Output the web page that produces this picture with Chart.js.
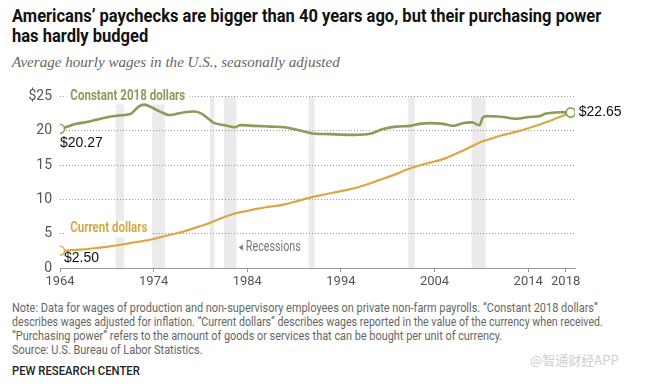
<!DOCTYPE html>
<html>
<head>
<meta charset="utf-8">
<script src="https://cdn.jsdelivr.net/npm/chart.js@4"></script>
<style>
  body { margin: 0; width: 651px; height: 384px; background: #fff; position: relative; overflow: hidden; }
  .fit { position: absolute; left: 12px; white-space: nowrap; transform-origin: 0 0; }
  .title { font-family: Roboto, "DejaVu Sans", sans-serif; font-weight: bold; font-size: 18px; line-height: 20px; color: #111; }
  .sub { font-family: "Liberation Serif", "DejaVu Serif", serif; font-style: italic; font-size: 15px; color: #666; }
  .note { font-family: Roboto, "DejaVu Sans", sans-serif; font-size: 12px; line-height: 14px; color: #666; }
  .pew { font-family: Roboto, "DejaVu Sans", sans-serif; font-size: 12px; font-weight: 500; color: #222; }
  #wrap { position: absolute; left: 0; top: 80px; width: 651px; height: 220px; }
  .wm { position: absolute; left: 530px; top: 350px; font-family: "Noto Sans CJK SC", sans-serif; font-size: 13px; color: #cfcfcf; }
</style>
</head>
<body>
<div class="fit title" style="top:6px" data-w="589">Americans’ paychecks are bigger than 40 years ago, but their purchasing power</div>
<div class="fit title" style="top:26px" data-w="589" data-ref="0">has hardly budged</div>
<div class="fit sub" style="top:54px" data-w="328">Average hourly wages in the U.S., seasonally adjusted</div>
<div id="wrap"><canvas id="myChart" width="651" height="220"></canvas></div>
<div class="fit note" style="top:301px" data-w="586">Note: Data for wages of production and non-supervisory employees on private non-farm payrolls. “Constant 2018 dollars”</div>
<div class="fit note" style="top:315px" data-w="591">describes wages adjusted for inflation. “Current dollars” describes wages reported in the value of the currency when received.</div>
<div class="fit note" style="top:329px" data-w="490">“Purchasing power” refers to the amount of goods or services that can be bought per unit of currency.</div>
<div class="fit note" style="top:343px" data-w="191">Source: U.S. Bureau of Labor Statistics.</div>
<div class="fit pew" style="top:364px" data-w="128">PEW RESEARCH CENTER</div>
<div class="wm">@智通财经APP</div>
<script>
// 数据
const currentYears = [1964, 1965, 1966, 1967, 1968, 1969, 1970, 1971, 1972, 1973, 1974, 1975, 1976, 1977, 1978, 1979,
  1980, 1981, 1982, 1983, 1984, 1985, 1986, 1987, 1988, 1989, 1990, 1991, 1992, 1993, 1994, 1995, 1996, 1997, 1998, 1999,
  2000, 2001, 2002, 2003, 2004, 2005, 2006, 2007, 2008, 2009, 2010, 2011, 2012, 2013, 2014, 2015, 2016, 2017, 2018.55];
const currentValues = [2.50, 2.58, 2.67, 2.77, 2.92, 3.09, 3.28, 3.50, 3.75, 3.97, 4.23, 4.59, 4.91, 5.25, 5.66, 6.11,
  6.57, 7.14, 7.66, 8.04, 8.33, 8.61, 8.85, 9.03, 9.28, 9.62, 10.00, 10.37, 10.64, 10.92, 11.20, 11.49, 11.84, 12.28, 12.77, 13.24,
  13.75, 14.31, 14.78, 15.19, 15.51, 15.90, 16.45, 17.09, 17.73, 18.39, 18.82, 19.26, 19.59, 19.94, 20.36, 20.80, 21.27, 21.81, 22.65];

const constantYears = [1964, 1965, 1965.6, 1967, 1968.8, 1970.2, 1970.9, 1971.6, 1972.4, 1973, 1973.8, 1974.5, 1975.6, 1976.3,
  1977.3, 1978.4, 1979.1, 1979.8, 1980.5, 1981.6, 1982.7, 1983.2, 1984.8, 1986.6, 1988, 1989.4, 1991, 1992.8, 1995.3, 1997.1,
  1998.5, 1999.9, 2001.4, 2002.4, 2003.5, 2004.9, 2006, 2007, 2008.1, 2008.8, 2009.2, 2010.2, 2011.3, 2012.7, 2014.1, 2015.2,
  2015.9, 2017.4, 2018.55];
const constantValues = [20.27, 20.7, 20.97, 21.3, 21.9, 22.2, 22.3, 22.5, 23.5, 23.8, 23.4, 22.9, 22.3, 22.4,
  22.7, 22.8, 22.5, 21.8, 21.1, 20.8, 20.5, 20.8, 20.7, 20.6, 20.5, 20.1, 19.6, 19.5, 19.4, 19.55,
  20.25, 20.6, 20.7, 21.0, 21.1, 21.0, 20.7, 21.1, 21.2, 20.8, 22.0, 22.1, 22.0, 21.75, 22.0, 22.1,
  22.5, 22.7, 22.65];

const recessionStart = [1969.95, 1973.85, 1980.0, 1981.5, 1990.55, 2001.2, 2007.95];
const recessionEnd = [1970.85, 1975.2, 1980.5, 1982.85, 1991.2, 2001.9, 2009.45];

const xTicks = [1964, 1974, 1984, 1994, 2004, 2014, 2018];
const yTicks = [0, 5, 10, 15, 20, 25];

const green = '#8b9b58';
const gold = '#d9a846';
const sans = 'Roboto, "DejaVu Sans", sans-serif';

// 把一行文字横向压缩到参考图的宽度
const fits = document.querySelectorAll('.fit');
const scales = [];
fits.forEach((el, i) => {
  let s = el.dataset.w / el.scrollWidth;
  if (el.dataset.ref !== undefined) s = scales[+el.dataset.ref];
  scales.push(s);
  el.style.transform = 'scaleX(' + s + ')';
});

function pts(xs, ys) { return xs.map((x, i) => ({ x: x, y: ys[i] })); }
function endsOnly(ctx) {
  const n = ctx.dataset.data.length;
  return (ctx.dataIndex === 0 || ctx.dataIndex === n - 1) ? 4.5 : 0;
}
function fillNarrow(ctx, text, x, y, w) {
  const s = w / ctx.measureText(text).width;
  ctx.save();
  ctx.translate(x, y);
  ctx.scale(s, 1);
  ctx.fillText(text, 0, 0);
  ctx.restore();
}

// 衰退期灰色竖条
const recessionPlugin = {
  id: 'recessions',
  beforeDraw(chart) {
    const { ctx, chartArea, scales } = chart;
    ctx.save();
    ctx.fillStyle = '#ebebeb';
    recessionStart.forEach((s, i) => {
      const x1 = scales.x.getPixelForValue(s);
      const x2 = scales.x.getPixelForValue(recessionEnd[i]);
      ctx.fillRect(x1, chartArea.top, x2 - x1, chartArea.bottom - chartArea.top);
    });
    ctx.restore();
  }
};

// 文字标注
const labelPlugin = {
  id: 'labels',
  beforeDatasetsDraw(chart) {
    const { ctx, scales } = chart;
    const X = v => scales.x.getPixelForValue(v);
    const Y = v => scales.y.getPixelForValue(v);
    ctx.save();
    ctx.textBaseline = 'middle';
    ctx.font = 'bold 14px ' + sans;
    [['Constant 2018 dollars', green, 1965.1, 25, 115], ['Current dollars', gold, 1965.1, 5.7, 77]].forEach(l => {
      ctx.fillStyle = '#fff';
      ctx.fillRect(X(l[2]) - 4, Y(l[3]) - 8, l[4] + 8, 16);
      ctx.fillStyle = l[1];
      fillNarrow(ctx, l[0], X(l[2]), Y(l[3]), l[4]);
    });
    ctx.font = '14px "Liberation Sans", Arial, sans-serif';
    ctx.fillStyle = '#111';
    ctx.fillText('$' + constantValues[0].toFixed(2), X(constantYears[0]), Y(constantValues[0]) + 14);
    ctx.fillText('$' + currentValues[0].toFixed(2), X(currentYears[0]) + 4, Y(currentValues[0]) + 7);
    ctx.fillText('$' + constantValues[constantValues.length - 1].toFixed(2), X(constantYears[constantYears.length - 1]) + 8, Y(constantValues[constantValues.length - 1]));
    // Recessions
    ctx.fillStyle = '#777';
    ctx.font = '14px ' + sans;
    const rx = X(1983.1), ry = Y(3.0);
    ctx.beginPath();
    ctx.moveTo(rx, ry);
    ctx.lineTo(rx + 4, ry - 3);
    ctx.lineTo(rx + 4, ry + 3);
    ctx.fill();
    fillNarrow(ctx, 'Recessions', rx + 7, ry, 55);
    ctx.restore();
  }
};

const data = {
  datasets: [{
    label: 'Constant 2018 dollars',
    data: pts(constantYears, constantValues),
    borderColor: green,
    borderWidth: 2.6,
    tension: 0.3,
    pointRadius: endsOnly,
    pointBackgroundColor: '#fff',
    pointBorderColor: green,
    pointBorderWidth: 1.5
  }, {
    label: 'Current dollars',
    data: pts(currentYears, currentValues),
    borderColor: gold,
    borderWidth: 2.2,
    tension: 0.3,
    pointRadius: endsOnly,
    pointBackgroundColor: '#fff',
    pointBorderColor: gold,
    pointBorderWidth: 1.5
  }]
};

const config = {
  type: 'line',
  data: data,
  options: {
    responsive: false,
    animation: false,
    layout: { padding: { top: 14, right: 76, left: 0, bottom: 0 } },
    plugins: { legend: { display: false }, tooltip: { enabled: false } },
    scales: {
      x: {
        type: 'linear',
        min: 1964,
        max: 2019,
        afterBuildTicks: s => { s.ticks = xTicks.map(v => ({ value: v })); },
        afterFit: s => { s.height = 32; },
        grid: { drawOnChartArea: false, drawTicks: true, tickLength: 4, color: '#999' },
        border: { display: true, color: '#999' },
        ticks: {
          color: '#555',
          font: { family: sans, size: 13 },
          padding: 2,
          maxRotation: 0,
          callback: v => String(v)
        }
      },
      y: {
        min: 0,
        max: 25,
        afterBuildTicks: s => { s.ticks = yTicks.map(v => ({ value: v })); },
        afterFit: s => { s.width = 60; },
        grid: {
          drawTicks: false,
          color: c => c.tick.value === 0 ? 'rgba(0,0,0,0)' : '#999',
          lineWidth: 1
        },
        border: { display: false, dash: [1, 2] },
        ticks: {
          color: '#555',
          font: { family: sans, size: 14 },
          padding: 8,
          callback: v => v === 25 ? '$25' : String(v)
        }
      }
    }
  },
  plugins: [recessionPlugin, labelPlugin]
};

const myChart = new Chart(document.getElementById('myChart').getContext('2d'), config);
</script>
</body>
</html>
